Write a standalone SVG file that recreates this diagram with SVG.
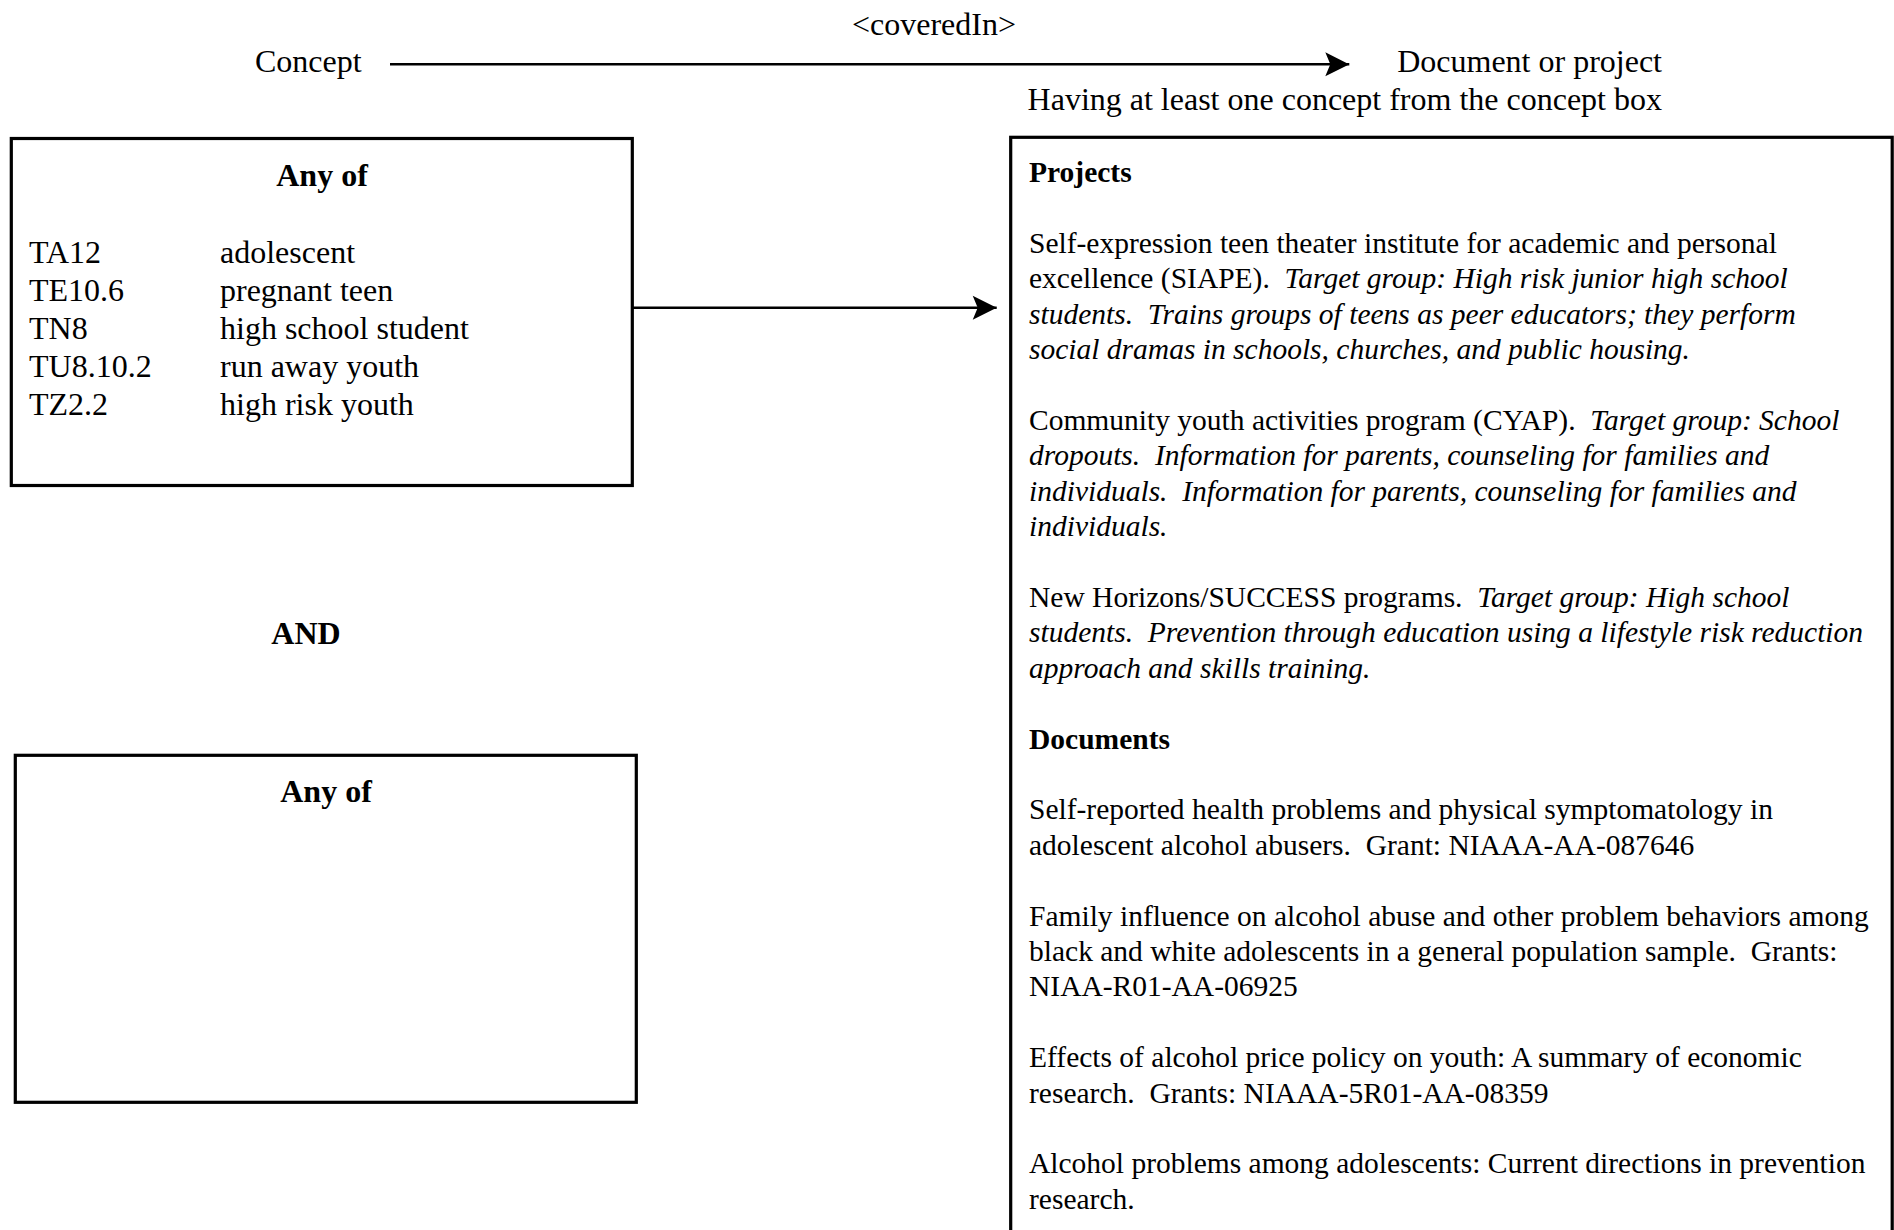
<svg xmlns="http://www.w3.org/2000/svg" width="1894" height="1230" viewBox="0 0 1894 1230">
<defs>
<style>
text{font-family:"Liberation Serif","Times New Roman",serif;fill:#000;white-space:pre}
.t32{font-size:32px}
.t29{font-size:29.5px}
.b{font-weight:bold}
.i{font-style:italic}
.box{fill:none;stroke:#000;stroke-width:3.2}
.conn{fill:none;stroke:#000;stroke-width:2.4}
</style>
<marker id="ah" viewBox="-25 -13 25 26" refX="0" refY="0" markerWidth="25" markerHeight="26" markerUnits="userSpaceOnUse" orient="auto">
<path d="M0,0 L-24,-12 L-19,0 L-24,12 Z" fill="#000"/>
</marker>
</defs>
<rect width="1894" height="1230" fill="#fff"/>

<g id="header">
<text class="t32" x="934" y="35" text-anchor="middle">&lt;coveredIn&gt;</text>
<text class="t32" x="255" y="72">Concept</text>
<text class="t32" x="1662" y="72" text-anchor="end">Document or project</text>
<text class="t32" x="1662" y="110" text-anchor="end">Having at least one concept from the concept box</text>
</g>

<g id="concept-box-1">
<rect class="box" x="11.3" y="138.5" width="621" height="347"/>
<text class="t32 b" x="322" y="186" text-anchor="middle">Any of</text>
<text class="t32" x="29" y="263">TA12</text>
<text class="t32" x="220" y="263">adolescent</text>
<text class="t32" x="29" y="301">TE10.6</text>
<text class="t32" x="220" y="301">pregnant teen</text>
<text class="t32" x="29" y="339">TN8</text>
<text class="t32" x="220" y="339">high school student</text>
<text class="t32" x="29" y="377">TU8.10.2</text>
<text class="t32" x="220" y="377">run away youth</text>
<text class="t32" x="29" y="415">TZ2.2</text>
<text class="t32" x="220" y="415">high risk youth</text>
</g>

<g id="and-label">
<text class="t32 b" x="306" y="644" text-anchor="middle">AND</text>
</g>

<g id="concept-box-2">
<rect class="box" x="15.3" y="755.3" width="621" height="347"/>
<text class="t32 b" x="326" y="802" text-anchor="middle">Any of</text>
</g>

<g id="results-box">
<rect class="box" x="1010.7" y="137.3" width="881.5" height="1120"/>
<text class="t29 b" x="1029" y="182.2">Projects</text>
<text class="t29" x="1029" y="253">Self-expression teen theater institute for academic and personal</text>
<text class="t29" x="1029" y="288.4">excellence (SIAPE).  <tspan class="i">Target group: High risk junior high school</tspan></text>
<text class="t29 i" x="1029" y="323.8">students.  Trains groups of teens as peer educators; they perform</text>
<text class="t29 i" x="1029" y="359.2">social dramas in schools, churches, and public housing.</text>
<text class="t29" x="1029" y="430">Community youth activities program (CYAP).  <tspan class="i">Target group: School</tspan></text>
<text class="t29 i" x="1029" y="465.4">dropouts.  Information for parents, counseling for families and</text>
<text class="t29 i" x="1029" y="500.8">individuals.  Information for parents, counseling for families and</text>
<text class="t29 i" x="1029" y="536.2">individuals.</text>
<text class="t29" x="1029" y="607">New Horizons/SUCCESS programs.  <tspan class="i">Target group: High school</tspan></text>
<text class="t29 i" x="1029" y="642.4">students.  Prevention through education using a lifestyle risk reduction</text>
<text class="t29 i" x="1029" y="677.8">approach and skills training.</text>
<text class="t29 b" x="1029" y="748.6">Documents</text>
<text class="t29" x="1029" y="819.4">Self-reported health problems and physical symptomatology in</text>
<text class="t29" x="1029" y="854.8">adolescent alcohol abusers.  Grant: NIAAA-AA-087646</text>
<text class="t29" x="1029" y="925.6">Family influence on alcohol abuse and other problem behaviors among</text>
<text class="t29" x="1029" y="961">black and white adolescents in a general population sample.  Grants:</text>
<text class="t29" x="1029" y="996.4">NIAA-R01-AA-06925</text>
<text class="t29" x="1029" y="1067.2">Effects of alcohol price policy on youth: A summary of economic</text>
<text class="t29" x="1029" y="1102.6">research.  Grants: NIAAA-5R01-AA-08359</text>
<text class="t29" x="1029" y="1173.4">Alcohol problems among adolescents: Current directions in prevention</text>
<text class="t29" x="1029" y="1208.8">research.</text>
</g>

<g id="connectors">
<path class="conn" d="M390,64.3 H1349.3" marker-end="url(#ah)"/>
<path class="conn" d="M632.2,307.7 H996.7" marker-end="url(#ah)"/>
</g>
</svg>
